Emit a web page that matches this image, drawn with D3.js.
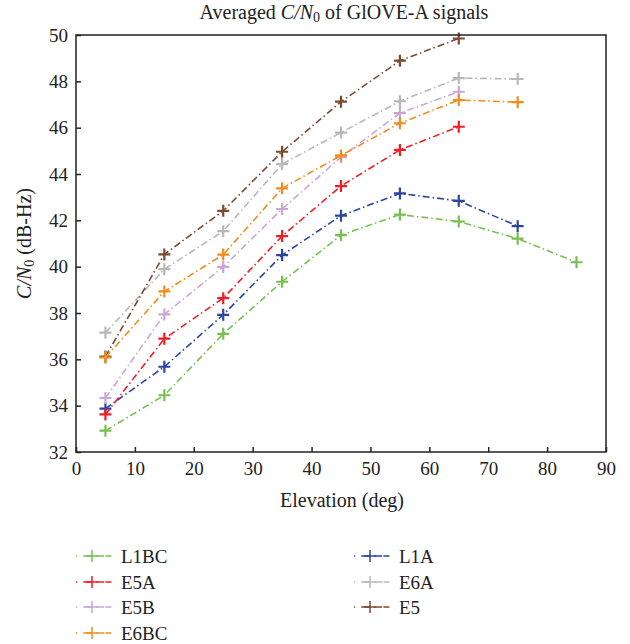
<!DOCTYPE html>
<html>
<head>
<meta charset="utf-8">
<script src="https://cdn.jsdelivr.net/npm/d3@7"></script>
<style>
  body { margin: 0; background: #fff; }
  text { font-family: "Liberation Serif", "DejaVu Serif", serif; fill: #222; }
</style>
</head>
<body>
<svg id="chart" width="630" height="644"></svg>
<script>
// Elevation bins (deg)
const elevations = [5, 15, 25, 35, 45, 55, 65, 75, 85];

// Averaged C/N0 per signal (dB-Hz), one value per elevation bin
const L1BC = [32.92, 34.45, 37.1, 39.35, 41.36, 42.25, 41.95, 41.21, 40.19];
const L1A  = [33.87, 35.68, 37.92, 40.5, 42.2, 43.16, 42.84, 41.75];
const E5A  = [33.62, 36.89, 38.64, 41.32, 43.48, 45.04, 46.04];
const E6A  = [37.15, 39.89, 41.53, 44.43, 45.79, 47.14, 48.14, 48.1];
const E5B  = [34.33, 37.94, 39.99, 42.49, 44.73, 46.63, 47.55];
const E5   = [36.12, 40.53, 42.41, 44.96, 47.12, 48.89, 49.85];
const E6BC = [36.08, 38.93, 40.52, 43.38, 44.8, 46.19, 47.19, 47.1];

const seriesNames  = ["L1BC", "L1A", "E5A", "E6A", "E5B", "E5", "E6BC"];
const seriesValues = [L1BC, L1A, E5A, E6A, E5B, E5, E6BC];
const seriesColors = ["#78c052", "#2b45a0", "#ee1f26", "#b8b8b8", "#c8a6d8", "#7b4b31", "#f08d1e"];

// Axis ticks
const xTicks = [0, 10, 20, 30, 40, 50, 60, 70, 80, 90];
const yTicks = [32, 34, 36, 38, 40, 42, 44, 46, 48, 50];

const serif = "Liberation Serif, DejaVu Serif, serif";
const svg = d3.select("#chart");
const margin = { left: 76, right: 24, top: 35, bottom: 192 };
const W = 630, H = 644;

const x = d3.scaleLinear().domain([0, 90]).range([margin.left, W - margin.right]);
const y = d3.scaleLinear().domain([32, 50]).range([H - margin.bottom, margin.top]);

// Plus-sign marker drawn as two strokes
const plus = r => `M${-r},0H${r}M0,${-r}V${r}`;

// Series lines and markers
const line = d3.line().x(d => x(d[0])).y(d => y(d[1]));
const dash = "7,3,1.5,3";

seriesNames.forEach((name, i) => {
  const pts = seriesValues[i].map((v, j) => [elevations[j], v]);
  const g = svg.append("g");
  g.append("path")
    .datum(pts)
    .attr("d", line)
    .attr("fill", "none")
    .attr("stroke", seriesColors[i])
    .attr("stroke-width", 1.6)
    .attr("stroke-dasharray", dash);
  g.selectAll("path.mk")
    .data(pts)
    .join("path")
    .attr("class", "mk")
    .attr("d", plus(6))
    .attr("transform", d => `translate(${x(d[0])},${y(d[1])})`)
    .attr("fill", "none")
    .attr("stroke", seriesColors[i])
    .attr("stroke-width", 2.2);
});

// Frame
svg.append("rect")
  .attr("x", x(0)).attr("y", y(50))
  .attr("width", x(90) - x(0)).attr("height", y(32) - y(50))
  .attr("fill", "none").attr("stroke", "#222").attr("stroke-width", 1.5);

// Axes with inward ticks
const xAxis = svg.append("g")
  .attr("transform", `translate(0,${y(32)})`)
  .call(d3.axisBottom(x).tickValues(xTicks).tickSizeInner(-5).tickSizeOuter(0).tickPadding(10));
const yAxis = svg.append("g")
  .attr("transform", `translate(${x(0)},0)`)
  .call(d3.axisLeft(y).tickValues(yTicks).tickSizeInner(-5).tickSizeOuter(0).tickPadding(8));

[xAxis, yAxis].forEach(a => {
  a.select(".domain").remove();
  a.selectAll(".tick line").attr("stroke", "#222").attr("stroke-width", 1.5);
  a.selectAll(".tick text")
    .attr("font-family", serif)
    .attr("font-size", 19).attr("fill", "#222");
});

// Title
const title = svg.append("text")
  .attr("x", 344).attr("y", 19)
  .attr("text-anchor", "middle")
  .attr("font-family", serif)
  .attr("font-size", 20);
title.append("tspan").text("Averaged ");
title.append("tspan").attr("font-style", "italic").text("C/N");
title.append("tspan").attr("font-size", 14).attr("dy", 3).text("0");
title.append("tspan").attr("dy", -3).text(" of GlOVE-A signals");

// X axis label
svg.append("text")
  .attr("x", x(45) + 1).attr("y", 507)
  .attr("text-anchor", "middle")
  .attr("font-family", serif)
  .attr("font-size", 20)
  .text("Elevation (deg)");

// Y axis label
const yl = svg.append("text")
  .attr("transform", `translate(31,${(y(32) + y(50)) / 2}) rotate(-90)`)
  .attr("text-anchor", "middle")
  .attr("font-family", serif)
  .attr("font-size", 20);
yl.append("tspan").attr("font-style", "italic").text("C/N");
yl.append("tspan").attr("font-size", 14).attr("dy", 3).text("0");
yl.append("tspan").attr("dy", -3).text(" (dB-Hz)");

// Legend: two columns, filled column by column
const legendOrder = ["L1BC", "E5A", "E5B", "E6BC", "L1A", "E6A", "E5"];
const colX = [76, 354];
const rowY = [556, 582, 607, 633];
legendOrder.forEach((name, k) => {
  const col = k < 4 ? 0 : 1;
  const row = k < 4 ? k : k - 4;
  const i = seriesNames.indexOf(name);
  const lx = colX[col], ly = rowY[row];
  const g = svg.append("g");
  g.append("line")
    .attr("x1", lx).attr("x2", lx + 38).attr("y1", ly).attr("y2", ly)
    .attr("stroke", seriesColors[i]).attr("stroke-width", 1.5)
    .attr("stroke-dasharray", "1.2,6,9,4,8");
  g.append("path")
    .attr("d", plus(6))
    .attr("transform", `translate(${lx + 16},${ly})`)
    .attr("fill", "none").attr("stroke", seriesColors[i]).attr("stroke-width", 1.5);
  g.append("text")
    .attr("x", lx + 45).attr("y", ly + 6.5)
    .attr("font-family", serif)
    .attr("font-size", 19)
    .text(name);
});
</script>
</body>
</html>
